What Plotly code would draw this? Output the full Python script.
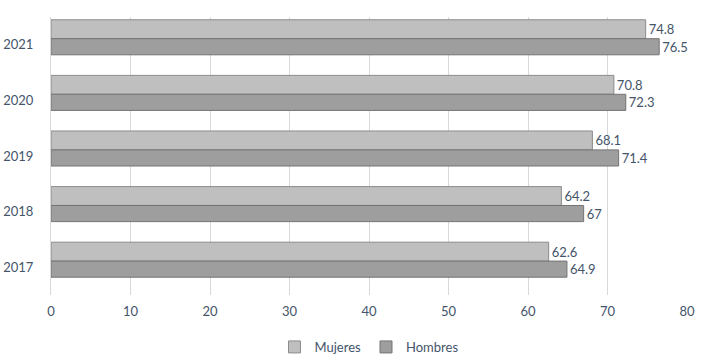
import plotly.graph_objects as go

years = ["2017", "2018", "2019", "2020", "2021"]
mujeres = [62.6, 64.2, 68.1, 70.8, 74.8]
hombres = [64.9, 67, 71.4, 72.3, 76.5]
x_ticks = [0, 10, 20, 30, 40, 50, 60, 70, 80]

txt = "#44546A"
font = dict(family="Lato, Carlito, 'Liberation Sans', sans-serif", size=13, color=txt)

fig = go.Figure()
fig.add_trace(go.Bar(
    y=years, x=mujeres, orientation="h", name="Mujeres",
    width=0.34, offset=0.11,
    marker=dict(color="#BFBFBF", line=dict(color="#8C8C8C", width=1)),
    text=[f"{v:g}" for v in mujeres], textposition="outside",
    textfont=font, cliponaxis=False,
))
fig.add_trace(go.Bar(
    y=years, x=hombres, orientation="h", name="Hombres",
    width=0.29, offset=-0.18,
    marker=dict(color="#9E9E9E", line=dict(color="#747474", width=1)),
    text=[f"{v:g}" for v in hombres], textposition="outside",
    textfont=font, cliponaxis=False,
))

fig.update_layout(
    width=701, height=358,
    margin=dict(l=51, r=14, t=17, b=63, autoexpand=False),
    barmode="overlay",
    plot_bgcolor="white", paper_bgcolor="white",
    font=font,
    showlegend=True,
    legend=dict(orientation="h", x=0.5, xanchor="center", y=-0.187, yanchor="middle",
                traceorder="normal", font=font, itemwidth=30),
    xaxis=dict(range=[0, 80], tickvals=x_ticks, showgrid=True, gridcolor="#D9D9D9",
               zeroline=False, ticks="outside", ticklen=4, tickcolor="white",
               showline=False, automargin=False),
    yaxis=dict(categoryorder="array", categoryarray=years, showgrid=False,
               ticks="outside", ticklen=14, tickcolor="white",
               showline=True, linecolor="#D9D9D9", range=[-0.5, 4.5],
               automargin=False),
)

fig.write_html("out.html", config={"displayModeBar": False},
               post_script="document.body.style.margin='0';")
